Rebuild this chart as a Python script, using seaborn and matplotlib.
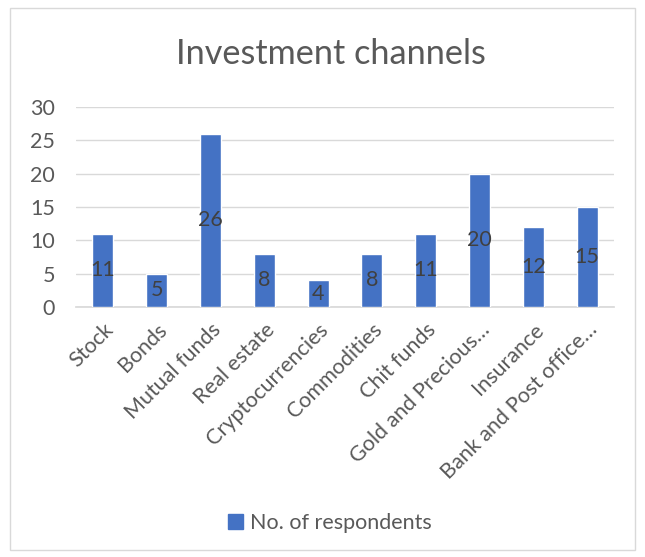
import matplotlib
matplotlib.use("Agg")
import matplotlib.pyplot as plt
import seaborn as sns
import pandas as pd
from matplotlib.patches import Rectangle

categories = ["Stock", "Bonds", "Mutual funds", "Real estate", "Cryptocurrencies",
              "Commodities", "Chit funds", "Gold and Precious…", "Insurance",
              "Bank and Post office…"]
respondents = [11, 5, 26, 8, 4, 8, 11, 20, 12, 15]
yticks = [0, 5, 10, 15, 20, 25, 30]
series_name = "No. of respondents"
title = "Investment channels"

sns.set_theme(style="white")
plt.rcParams['font.family'] = ['Lato', 'DejaVu Sans']

df = pd.DataFrame({"Channel": categories, "Count": respondents})

fig = plt.figure(figsize=(6.45, 5.57), dpi=100)
fig.patch.set_facecolor("white")
fig.patches.append(Rectangle((10/645, 1-550/557), 625/645, 542/557, transform=fig.transFigure,
                             fill=False, edgecolor="#D9D9D9", linewidth=1))

ax = fig.add_axes([76/645, 1-307/557, 538/645, 200/557])
sns.barplot(data=df, x="Channel", y="Count", color="#4472C4", width=0.39,
            saturation=1, ax=ax, zorder=3)
ax.set_ylim(0, 30)
ax.set_xlim(-0.5, len(categories) - 0.5)
ax.set_yticks(yticks)
ax.yaxis.grid(True, color="#D9D9D9", linewidth=1, zorder=0)
ax.set_axisbelow(True)
for s in ["top", "right", "left"]:
    ax.spines[s].set_visible(False)
ax.spines["bottom"].set_color("#D9D9D9")
ax.set_xlabel("")
ax.set_ylabel("")
ax.tick_params(axis="y", labelsize=15.5, colors="#595959", length=0, pad=15)
ax.tick_params(axis="x", labelsize=15.5, colors="#595959", length=0, pad=9)
plt.setp(ax.get_xticklabels(), rotation=45, ha="right", rotation_mode="anchor")

ax.bar_label(ax.containers[0], labels=[str(v) for v in respondents], label_type="center",
             fontsize=15.5, color="#404040")

fig.text(331/645, 1-54/557, title, ha="center", va="center", fontsize=24.7, color="#595959")

handle = Rectangle((0, 0), 1, 1, color="#4472C4")
fig.legend([handle], [series_name], loc="center", bbox_to_anchor=(330/645, 1-523/557),
           frameon=False, fontsize=15.5, labelcolor="#595959", handlelength=0.7,
           handleheight=0.7, handletextpad=0.35)

fig.savefig("out.png", dpi=100, facecolor="white")
